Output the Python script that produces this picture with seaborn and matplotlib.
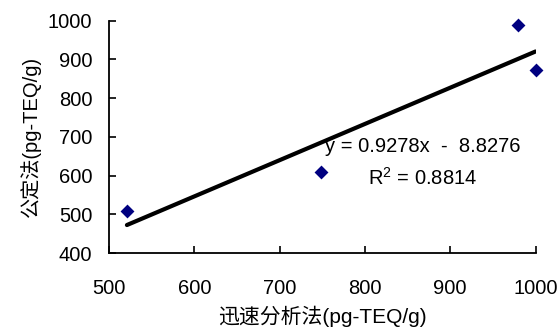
import numpy as np
import pandas as pd
import matplotlib
matplotlib.use("Agg")
import matplotlib.pyplot as plt
import seaborn as sns

# data
rapid = [521, 749, 979, 1000]        # 迅速分析法 (x)
official = [509, 608, 990, 872]      # 公定法 (y)
x_ticks = [500, 600, 700, 800, 900, 1000]
y_ticks = [400, 500, 600, 700, 800, 900, 1000]
eq_text = "y = 0.9278x  -  8.8276"
r2_text = "R$^2$ = 0.8814"
x_label = "迅速分析法(pg-TEQ/g)"
y_label = "公定法(pg-TEQ/g)"

sns.set_theme(style="white")
fonts = ["Liberation Sans", "Noto Sans CJK SC", "DejaVu Sans"]
plt.rcParams["font.family"] = fonts
plt.rcParams["mathtext.fontset"] = "custom"
plt.rcParams["mathtext.rm"] = "Liberation Sans"
plt.rcParams["mathtext.it"] = "Liberation Sans"
plt.rcParams["mathtext.default"] = "regular"

df = pd.DataFrame({"x": rapid, "y": official})

fig = plt.figure(figsize=(5.59, 3.31), dpi=100)
ax = fig.add_axes([0.195, 0.2356, 0.763, 0.702])

sns.regplot(data=df, x="x", y="y", ax=ax, ci=None, scatter=False,
            line_kws=dict(color="black", lw=3.0), truncate=True)
sns.scatterplot(data=df, x="x", y="y", ax=ax, marker="D", s=50,
                color="#000080", edgecolor="#000080", linewidth=0,
                zorder=5, clip_on=False)

ax.set_xlim(500, 1000)
ax.set_ylim(400, 1000)
ax.set_xticks(x_ticks)
ax.set_yticks(y_ticks)
fs = 14.5
ax.tick_params(axis="both", direction="in", length=5, width=1.2,
               colors="black", labelsize=fs, left=True, bottom=True)
ax.tick_params(axis="x", pad=19)
ax.tick_params(axis="y", pad=12)
for s in ["top", "right"]:
    ax.spines[s].set_visible(False)
for s in ["left", "bottom"]:
    ax.spines[s].set_color("black")
    ax.spines[s].set_linewidth(1.3)

ax.set_xlabel(x_label, fontsize=fs + 0.5, color="black", labelpad=5)
ax.set_ylabel(y_label, fontsize=fs, color="black", labelpad=5)

ax.text(868, 674, eq_text, ha="center", va="center", fontsize=fs, color="black")
ax.text(868, 593, r2_text, ha="center", va="center", fontsize=fs, color="black")

fig.savefig("out.png", dpi=100)
